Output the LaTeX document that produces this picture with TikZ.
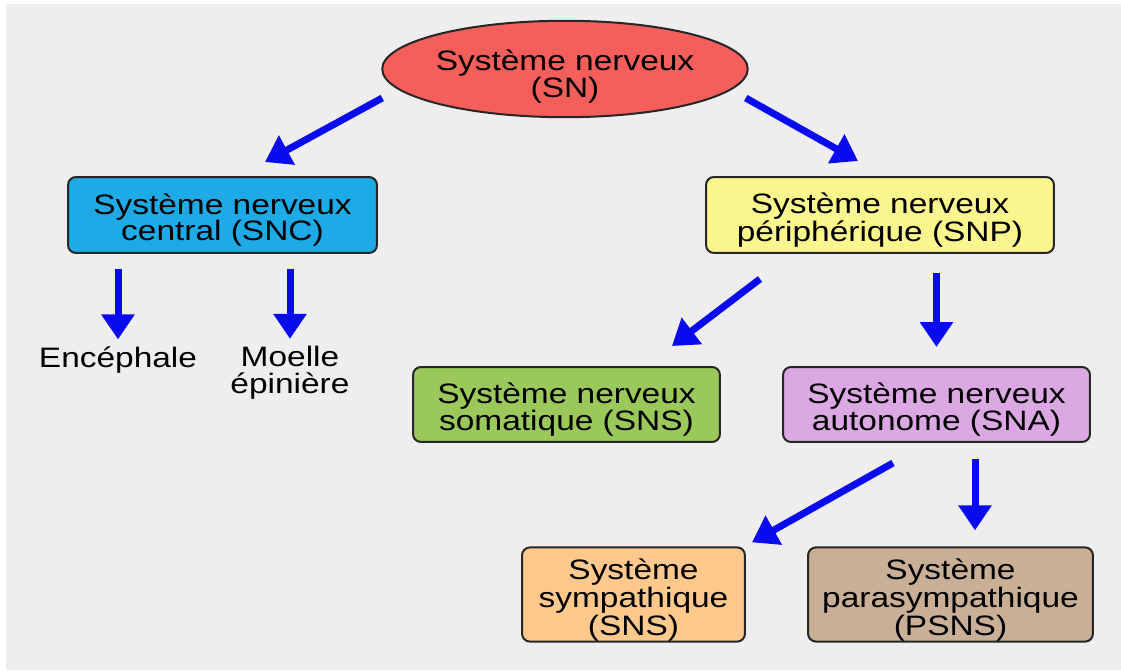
\documentclass[tikz,border=0pt]{standalone}
\usepackage{fontspec}
\setmainfont[FakeStretch=1.19]{Liberation Sans}
\usetikzlibrary{arrows.meta,shapes.geometric}

\definecolor{fon}{HTML}{EEEEEE}
\definecolor{strelka}{HTML}{0A0AF0}
\definecolor{krasnyj}{HTML}{F55F5B}
\definecolor{goluboj}{HTML}{1EAAE6}
\definecolor{zheltyj}{HTML}{FAF58C}
\definecolor{zelenyj}{HTML}{9BC85A}
\definecolor{rozovyj}{HTML}{DCA8E4}
\definecolor{oranzh}{HTML}{FFC88C}
\definecolor{bezhevyj}{HTML}{C8AF96}

% подпорка, чтобы опустить текст в блоке
\newcommand\podp[1]{\rule{0pt}{#1}}

\tikzset{
  blok/.style={draw=black!85, line width=0.04cm, rounded corners=0.16cm,
    align=center, inner sep=0pt, text=black,
    font=\fontsize{16}{15}\selectfont},
  tekst/.style={align=center, inner sep=0pt, text=black,
    font=\fontsize{16}{15.6}\selectfont},
  strel/.style={->, draw=strelka, fill=strelka, line width=0.14cm},
}

\begin{document}
\begin{tikzpicture}[x=0.02cm, y=-0.02cm, >={Triangle[length=0.5cm,width=0.64cm]}]
    % Фон
    \fill[white] (0,0) rectangle (1121,671);
    \fill[fon] (6,4) rectangle (1121,670);

    % Узлы
    \node[blok, ellipse, rounded corners=0pt, fill=krasnyj,
      minimum width=6.72cm, minimum height=1.72cm]
      (sn) at (565,69) {\podp{20.5pt}Système nerveux\\(SN)};
    \node[blok, fill=goluboj, minimum width=6.18cm, minimum height=1.52cm]
      (snc) at (222.5,215) {\podp{17.5pt}Système nerveux\\central (SNC)};
    \node[blok, fill=zheltyj, minimum width=6.96cm, minimum height=1.52cm]
      (snp) at (880,215) {\podp{17.5pt}Système nerveux\\périphérique (SNP)};
    \node[tekst] (enc) at (118,360) {Encéphale};
    \node[tekst] (moe) at (290,373) {Moelle\\épinière};
    \node[blok, fill=zelenyj, minimum width=6.14cm, minimum height=1.5cm]
      (sns) at (566.5,404.5) {\podp{17.5pt}Système nerveux\\somatique (SNS)};
    \node[blok, fill=rozovyj, minimum width=6.14cm, minimum height=1.5cm]
      (sna) at (936.5,404.5) {\podp{17.5pt}Système nerveux\\autonome (SNA)};
    \node[blok, fill=oranzh, minimum width=4.46cm, minimum height=1.74cm,
      font=\fontsize{16}{13.7}\selectfont]
      (symp) at (633.5,594.5) {\podp{18.5pt}Système\\sympathique\\(SNS)};
    \node[blok, fill=bezhevyj, minimum width=5.7cm, minimum height=1.74cm,
      font=\fontsize{16}{13.7}\selectfont]
      (para) at (950.5,594.5) {\podp{18.5pt}Système\\parasympathique\\(PSNS)};

    % Стрелки
    \draw[strel] ([shift={(1,29)}]sn.west) -- ([shift={(42.5,-14)}]snc.north);
    \draw[strel] ([shift={(-3,29)}]sn.east) -- ([shift={(-22,-15)}]snp.north);
    \draw[strel] ([shift={(0,15)}]snc.south -| enc.north) -- ([shift={(0,-7)}]enc.north);
    \draw[strel] ([shift={(0,15)}]snc.south -| moe.north) -- ([shift={(0,-7)}]moe.north);
    \draw[strel] ([shift={(-120,25)}]snp.south) -- ([shift={(105.5,-20)}]sns.north);
    \draw[strel] ([shift={(0,19)}]snp.south -| sna.north) -- ([shift={(0,-19)}]sna.north);
    \draw[strel] ([shift={(-43.5,20)}]sna.south) -- ([shift={(118.5,-4)}]symp.north);
    \draw[strel] ([shift={(38.5,16)}]sna.south) -- ([shift={(24.5,-16)}]para.north);
\end{tikzpicture}
\end{document}
